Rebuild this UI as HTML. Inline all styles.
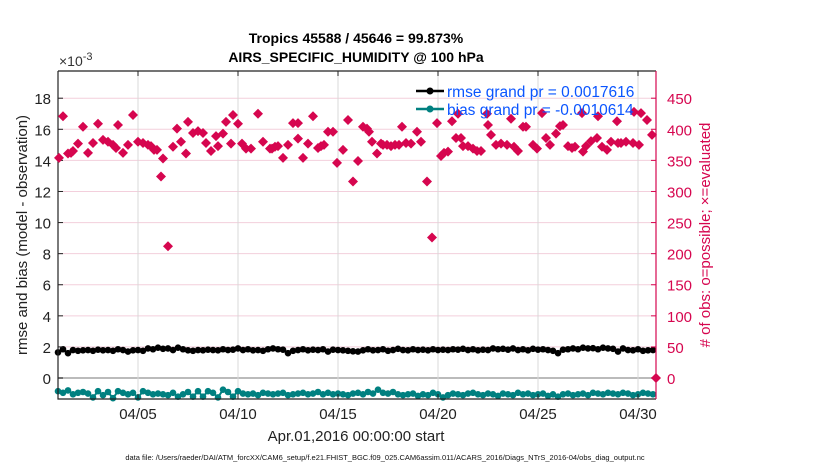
<!DOCTYPE html>
<html><head><meta charset="utf-8"><style>
body{margin:0;background:#fff;}
svg{display:block;font-family:"Liberation Sans",Arial,sans-serif;}
</style></head><body>
<svg id="chart" width="830" height="470" xmlns="http://www.w3.org/2000/svg">
<g id="grid"></g>
<g id="series"></g>
<g id="axes"></g>
<text x="356" y="43" text-anchor="middle" font-size="14" font-weight="bold">Tropics 45588 / 45646 = 99.873%</text>
<text x="356" y="62" text-anchor="middle" font-size="14" font-weight="bold">AIRS_SPECIFIC_HUMIDITY @ 100 hPa</text>
<text x="59" y="66" font-size="14" fill="#333">×10<tspan dy="-6" font-size="11">-3</tspan></text>
<text transform="translate(27,235) rotate(-90)" text-anchor="middle" font-size="15" fill="#222">rmse and bias (model - observation)</text>
<text transform="translate(710,235) rotate(-90)" text-anchor="middle" font-size="15" fill="#d6064f"># of obs: o=possible; ×=evaluated</text>
<text x="356" y="441" text-anchor="middle" font-size="15" fill="#222">Apr.01,2016 00:00:00 start</text>
<text x="385" y="460" text-anchor="middle" font-size="7.5" fill="#111">data file: /Users/raeder/DAI/ATM_forcXX/CAM6_setup/f.e21.FHIST_BGC.f09_025.CAM6assim.011/ACARS_2016/Diags_NTrS_2016-04/obs_diag_output.nc</text>
<g id="series2"></g>
<g>
<line x1="416" y1="91" x2="444" y2="91" stroke="#000" stroke-width="2.5"/>
<circle cx="430" cy="91" r="3.5" fill="#000"/>
<text x="447" y="97" font-size="15.5" fill="#0a55ff">rmse grand pr = 0.0017616</text>
<line x1="416" y1="109" x2="444" y2="109" stroke="#008080" stroke-width="2.5"/>
<circle cx="430" cy="109" r="3.5" fill="#008080"/>
<text x="447" y="115" font-size="15.5" fill="#0a55ff">bias grand pr = -0.0010614</text>
</g>
</svg>
<script>
const xTickLabels=["04/05","04/10","04/15","04/20","04/25","04/30"];
const xTickDays=[4,9,14,19,24,29];
const yTickLabels=["0","2","4","6","8","10","12","14","16","18"];
const yTickValues=[0,2,4,6,8,10,12,14,16,18];
const rTickValues=[0,50,100,150,200,250,300,350,400,450];
const countTimes=[0.05,0.25,0.5,0.65,0.75,1.0,1.25,1.5,1.75,2.0,2.25,2.5,2.75,2.9,3.0,3.25,3.5,3.75,4.0,4.25,4.5,4.65,4.8,4.95,5.15,5.25,5.5,5.75,5.95,6.15,6.4,6.5,6.75,7.0,7.25,7.4,7.65,7.9,8.0,8.25,8.4,8.65,8.75,9.0,9.2,9.4,9.65,10.0,
10.25,10.6,10.7,10.85,11.0,11.25,11.5,11.75,12.0,12.0,12.25,12.5,12.75,13.0,13.15,13.3,13.5,13.75,13.95,14.25,14.5,14.75,15.0,15.25,15.45,15.55,15.7,15.95,16.15,16.25,16.45,16.65,16.85,17.05,17.2,17.4,17.65,17.95,18.15,18.45,18.7,18.95,19.15,19.3,19.5,19.7,19.9,
20.0,20.15,20.25,20.5,20.75,20.95,21.15,21.45,21.5,21.65,21.9,22.15,22.45,22.65,22.8,23.0,23.25,23.4,23.75,23.95,24.2,24.4,24.6,24.9,25.1,25.25,25.5,25.7,25.85,26.2,26.25,26.4,26.65,26.95,27.0,27.2,27.45,27.65,27.95,28.0,28.15,28.4,28.75,28.8,29.05,29.15,29.45,29.7,29.9];
const countValues=[354,421,361,362,365,377,404,362,378,409,383,380,375,370,407,362,375,423,380,378,375,373,367,367,324,353,212,372,401,380,361,412,394,397,394,378,365,389,373,393,412,377,423,409,377,369,369,425,
380,369,369,372,373,354,375,410,410,385,354,377,421,370,373,375,396,396,346,367,415,316,349,404,401,396,380,361,377,375,375,373,375,375,404,378,377,396,380,316,226,410,357,362,364,413,386,
425,386,373,373,369,365,365,425,407,391,375,377,375,417,372,365,404,404,375,369,426,386,375,393,405,407,373,370,372,426,364,373,381,386,421,372,367,380,413,378,378,380,378,428,375,426,415,391,0];
const rmseValues=[1.65,1.85,1.6,1.8,1.75,1.78,1.8,1.75,1.82,1.78,1.8,1.75,1.85,1.8,1.7,1.78,1.8,1.75,1.9,1.85,1.95,1.88,1.9,1.8,1.95,1.85,1.78,1.75,1.8,1.78,1.82,1.8,1.78,1.85,1.8,1.82,1.9,1.8,1.85,1.78,1.8,1.75,1.85,1.9,1.85,1.82,1.6,1.75,1.8,1.85,1.78,1.82,1.8,1.85,1.7,1.82,1.8,1.78,1.75,1.72,1.7,1.78,1.85,1.78,1.8,1.85,1.75,1.8,1.88,1.8,1.78,1.85,1.8,1.82,1.78,1.85,1.8,1.82,1.8,1.85,1.82,1.88,1.8,1.85,1.78,1.82,1.8,1.9,1.85,1.88,1.82,1.9,1.8,1.85,1.78,1.88,1.82,1.85,1.8,1.75,1.6,1.82,1.85,1.9,1.85,1.95,1.9,1.92,1.85,1.95,1.9,1.88,1.7,1.9,1.8,1.78,1.85,1.75,1.78,1.8];
const biasValues=[-0.85,-0.95,-0.8,-1.05,-0.95,-0.9,-1.0,-1.25,-0.85,-1.1,-0.9,-1.3,-0.85,-0.95,-1.05,-0.95,-1.25,-0.85,-0.95,-1.05,-1.0,-1.05,-1.1,-0.95,-1.2,-1.05,-0.9,-1.2,-0.85,-1.2,-0.85,-0.95,-1.25,-0.75,-0.9,-1.2,-0.85,-1.0,-1.05,-1.0,-1.1,-0.95,-1.0,-1.05,-1.0,-0.95,-1.1,-1.05,-1.0,-0.95,-1.05,-1.0,-0.9,-1.05,-0.95,-1.05,-1.0,-1.05,-1.1,-1.0,-0.95,-1.05,-0.9,-1.0,-0.75,-0.95,-1.0,-0.9,-1.05,-1.1,-1.05,-1.0,-1.15,-1.05,-1.1,-0.95,-1.05,-1.25,-1.1,-1.0,-1.05,-1.1,-1.0,-0.95,-1.05,-1.1,-1.0,-1.05,-1.15,-1.0,-1.05,-1.1,-0.95,-1.05,-1.0,-1.1,-1.05,-1.0,-1.15,-1.05,-1.2,-1.05,-1.0,-1.1,-1.05,-1.0,-1.1,-0.95,-1.0,-1.05,-0.95,-1.0,-1.05,-0.95,-1.0,-1.1,-1.05,-0.95,-1.0,-1.05];

const NS="http://www.w3.org/2000/svg";
const L=58,R=656,T=71,B=399;
const xMin=0,xMax=29.9,yMin=-1.35,yMax=19.75,rMin=yMin*25,rMax=yMax*25;
const xs=d=>L+(d-xMin)/(xMax-xMin)*(R-L);
const ys=v=>B-(v-yMin)/(yMax-yMin)*(B-T);
const rs=v=>B-(v-rMin)/(rMax-rMin)*(B-T);
function el(tag,attrs,parent){const e=document.createElementNS(NS,tag);for(const k in attrs)e.setAttribute(k,attrs[k]);parent.appendChild(e);return e;}
const grid=document.getElementById('grid'),series=document.getElementById('series'),series2=document.getElementById('series2'),axes=document.getElementById('axes');
yTickValues.forEach((v,i)=>{const g=el('line',{x1:L,x2:R,y1:ys(v),y2:ys(v),stroke:v===0?'#bbb':'#f3cfdc','stroke-width':v===0?2:1},grid);

});
xTickDays.forEach(d=>{const g=el('line',{x1:xs(d),x2:xs(d),y1:T,y2:B,stroke:'#d8d8d8','stroke-width':1},grid);

});
const rmseTimes=rmseValues.map((v,i)=>i*0.25);
const biasTimes=biasValues.map((v,i)=>i*0.25);
let p1=el('polyline',{points:rmseValues.map((v,i)=>xs(rmseTimes[i])+','+ys(v)).join(' '),fill:'none',stroke:'#000','stroke-width':2},series);


rmseValues.forEach((v,i)=>{const c=el('circle',{cx:xs(rmseTimes[i]),cy:ys(v),r:3.3,fill:'#000'},series);

});
let p2=el('polyline',{points:biasValues.map((v,i)=>xs(biasTimes[i])+','+ys(v)).join(' '),fill:'none',stroke:'#008080','stroke-width':2},series);


biasValues.forEach((v,i)=>{const c=el('circle',{cx:xs(biasTimes[i]),cy:ys(v),r:3.3,fill:'#008080'},series);

});
countValues.forEach((v,i)=>{const x=xs(countTimes[i]),y=rs(v);const m=el('polygon',{points:`${x},${y-5} ${x+5},${y} ${x},${y+5} ${x-5},${y}`,fill:'#d6064f'},series2);

});
let bx=el('path',{d:`M${L},${T} L${L},${B} L${R},${B}`,fill:'none',stroke:'#222','stroke-width':1.2},axes);


let tp=el('line',{x1:L,x2:R,y1:T,y2:T,stroke:'#222','stroke-width':1.2},axes);


let ra=el('line',{x1:R,x2:R,y1:T,y2:B,stroke:'#d6064f','stroke-width':1.2},axes);


yTickValues.forEach((v,i)=>{el('line',{x1:L,x2:L+5,y1:ys(v),y2:ys(v),stroke:'#222'},axes);
const t=el('text',{x:L-7,y:ys(v)+6,'text-anchor':'end','font-size':15,fill:'#222'},axes);t.textContent=yTickLabels[i];

});
rTickValues.forEach(v=>{el('line',{x1:R-5,x2:R,y1:rs(v),y2:rs(v),stroke:'#d6064f'},axes);
const t=el('text',{x:R+11,y:rs(v)+6,'font-size':15,fill:'#d6064f'},axes);t.textContent=String(v);

});
xTickDays.forEach((d,i)=>{el('line',{x1:xs(d),x2:xs(d),y1:B,y2:B-5,stroke:'#222'},axes);el('line',{x1:xs(d),x2:xs(d),y1:T,y2:T+5,stroke:'#222'},axes);
const t=el('text',{x:xs(d),y:B+20,'text-anchor':'middle','font-size':15,fill:'#222'},axes);t.textContent=xTickLabels[i];

});
</script>
</body></html>
